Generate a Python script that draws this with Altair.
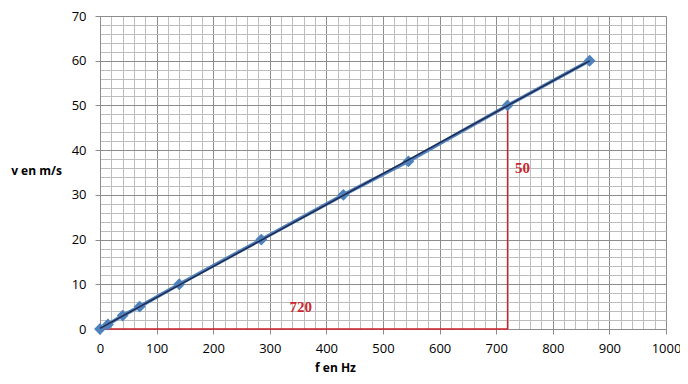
import altair as alt
import pandas as pd

f_vals = [0, 14, 40, 70, 140, 285, 430, 545, 720, 865]
v_vals = [0, 1, 3, 5, 10, 20, 30, 37.5, 50, 60]

ann_text = ["50", "720"]
ann_f = [733, 335]
ann_v = [36, 4.9]

guide_f = [0, 720, 720]
guide_v = [0, 0, 50]

df = pd.DataFrame({"f": f_vals, "v": v_vals})
ann = pd.DataFrame({"f": ann_f, "v": ann_v, "t": ann_text})
guide = pd.DataFrame({"f": guide_f, "v": guide_v, "o": [0, 1, 2]})

FONT = "Open Sans"

xscale = alt.Scale(domain=[0, 1000], nice=False)
yscale = alt.Scale(domain=[0, 70], nice=False)

xaxis = alt.Axis(
    values=list(range(0, 1001, 20)), format="d",
    labelExpr="datum.value % 100 === 0 ? datum.label : ''",
    gridColor={"condition": {"test": "datum.value % 100 === 0", "value": "#8c8c8c"}, "value": "#bdbdbd"},
    tickOpacity={"condition": {"test": "datum.value % 100 === 0", "value": 1}, "value": 0},
    tickColor="#8c8c8c", tickSize=5, domainColor="#8c8c8c",
    labelFont=FONT, labelFontSize=13, labelColor="#000", labelPadding=8,
    title="f en Hz", titleFont=FONT, titleFontSize=12, titleFontWeight="bold",
    titleColor="#000", titleX=235, titleY=38, titleAlign="center", titleBaseline="middle",
    labelFlush=False, labelOverlap=False, zindex=0,
)
yaxis = alt.Axis(
    values=list(range(0, 71, 2)),
    labelExpr="datum.value % 10 === 0 ? datum.label : ''",
    gridColor={"condition": {"test": "datum.value % 10 === 0", "value": "#8c8c8c"}, "value": "#bdbdbd"},
    tickOpacity={"condition": {"test": "datum.value % 10 === 0", "value": 1}, "value": 0},
    tickColor="#8c8c8c", tickSize=5, domainColor="#8c8c8c",
    labelFont=FONT, labelFontSize=13, labelColor="#000", labelPadding=9,
    title="v en m/s", titleFont=FONT, titleFontSize=12, titleFontWeight="bold",
    titleColor="#000", titleAngle=0, titleAlign="center", titleBaseline="middle",
    titleX=-64, titleY=154, labelFlush=False, labelOverlap=False, zindex=0,
)

X = alt.X("f:Q", scale=xscale, axis=xaxis)
Y = alt.Y("v:Q", scale=yscale, axis=yaxis)

base = alt.Chart(df)

data_line = base.mark_line(color="#4F81BD", strokeWidth=3.5).encode(x=X, y=Y)
points = base.mark_point(shape="diamond", filled=True, color="#4F81BD", size=140, opacity=1).encode(x=X, y=Y)
trend = base.transform_regression("f", "v").mark_line(color="#1F2A50", strokeWidth=1.5).encode(x=X, y=Y)
red_lines = alt.Chart(guide).mark_line(color="#D0202A", strokeWidth=1.3).encode(x=X, y=Y, order="o:Q")
labels = alt.Chart(ann).mark_text(
    color="#C8282D", font="Liberation Serif", fontSize=15, fontWeight="bold", align="left", baseline="middle"
).encode(x=X, y=Y, text="t:N")

chart = alt.layer(data_line, red_lines, points, trend, labels).properties(
    width=566, height=313,
    autosize=alt.AutoSizeParams(type="none"),
    padding={"left": 92, "top": 8, "right": 14, "bottom": 47},
).configure_view(stroke="#8c8c8c").configure(background="white")

chart.save("out.html", embed_options={"renderer": "svg", "actions": False})
